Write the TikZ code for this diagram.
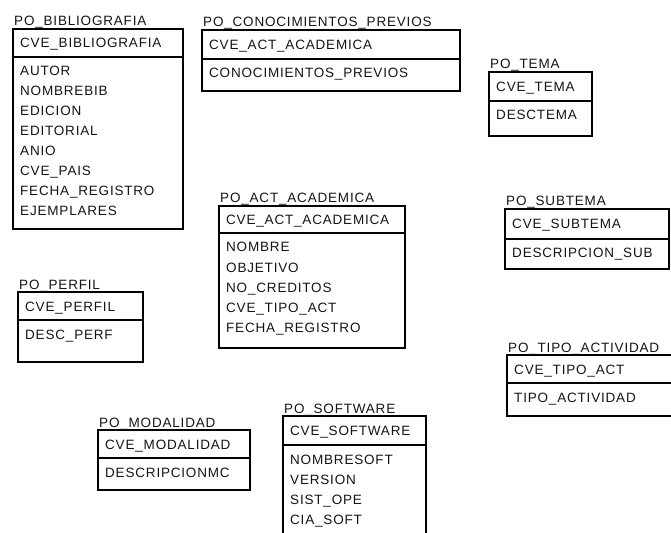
\documentclass[tikz,border=0pt]{standalone}
\usepackage{fontspec}
\newfontfamily\erfont[LetterSpace=6]{Liberation Sans}
\tikzset{
  erline/.style={line width=1.3bp, draw=black},
  ertext/.style={inner sep=0pt, font=\erfont\fontsize{13.5bp}{20bp}\selectfont, text=black!92},
}
% \erbox{id}{left}{top}{right}{divider}{bottom}{table name}{key}{attributes}
\newcommand\erbox[9]{%
  \draw[erline] (#2,#3) rectangle (#4,#6);
  \draw[erline] (#2,#5) -- (#4,#5);
  \node[ertext, anchor=base west] (#1-title) at (#2+1,#3-3) {#7};
  \node[ertext, anchor=base west] (#1-key) at (#2+7,{(#3+#5)/2+5}) {#8};
  \foreach \r [count=\i from 0] in {#9}
    \node[ertext, anchor=base west] (#1-r\i) at (#2+7,{#5+19+20*\i}) {\r};
}
\begin{document}
\begin{tikzpicture}[x=1bp,y=-1bp]
  \useasboundingbox (0,0) rectangle (671,533);
  \clip (0,0) rectangle (671,533);
  \erbox{bib}{13}{29}{183}{57}{229}{PO\_BIBLIOGRAFIA}{CVE\_BIBLIOGRAFIA}%
    {AUTOR,NOMBREBIB,EDICION,EDITORIAL,ANIO,CVE\_PAIS,FECHA\_REGISTRO,EJEMPLARES}
  \erbox{con}{202}{30}{460}{59}{91}{PO\_CONOCIMIENTOS\_PREVIOS}{CVE\_ACT\_ACADEMICA}%
    {CONOCIMIENTOS\_PREVIOS}
  \erbox{tema}{489}{72}{592}{101}{136}{PO\_TEMA}{CVE\_TEMA}{DESCTEMA}
  \erbox{act}{219}{206}{405}{233}{348}{PO\_ACT\_ACADEMICA}{CVE\_ACT\_ACADEMICA}%
    {NOMBRE,OBJETIVO,NO\_CREDITOS,CVE\_TIPO\_ACT,FECHA\_REGISTRO}
  \erbox{sub}{505}{209}{669}{239}{269}{PO\_SUBTEMA}{CVE\_SUBTEMA}{DESCRIPCION\_SUB}
  \erbox{perf}{18}{292}{143}{320}{362}{PO\_PERFIL}{CVE\_PERFIL}{DESC\_PERF}
  \erbox{tipo}{507}{355}{680}{383}{416}{PO\_TIPO\_ACTIVIDAD}{CVE\_TIPO\_ACT}{TIPO\_ACTIVIDAD}
  \erbox{mod}{98}{430}{250}{458}{490}{PO\_MODALIDAD}{CVE\_MODALIDAD}{DESCRIPCIONMC}
  \erbox{soft}{283}{416}{426}{445}{545}{PO\_SOFTWARE}{CVE\_SOFTWARE}%
    {NOMBRESOFT,VERSION,SIST\_OPE,CIA\_SOFT}
\end{tikzpicture}
\end{document}
